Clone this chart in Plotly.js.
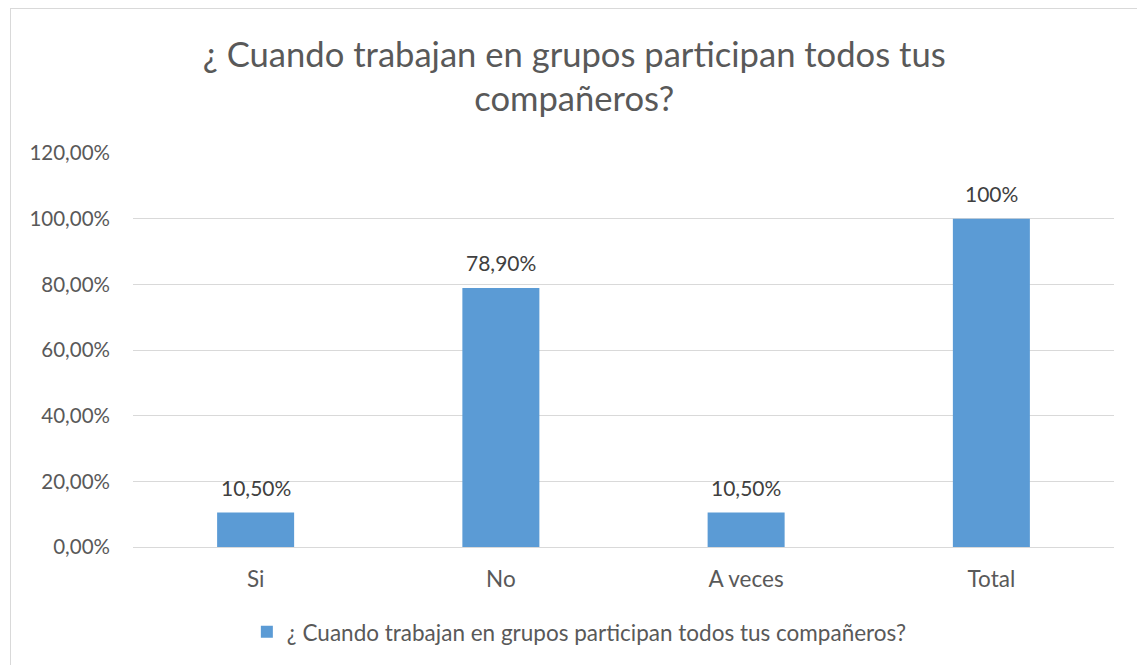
<!DOCTYPE html>
<html>
<head>
<meta charset="utf-8">
<script src="https://cdn.plot.ly/plotly-3.0.1.min.js"></script>
<style>
html,body{margin:0;padding:0;background:#fff;}
#chart{position:absolute;left:0;top:0;width:1137px;height:665px;}
#frame{position:absolute;left:10px;top:8px;width:1140px;height:670px;border:1px solid #d9d9d9;pointer-events:none;}
</style>
</head>
<body>
<div id="chart"></div>
<div id="frame"></div>
<script>
const titleText = "¿ Cuando trabajan en grupos participan todos tus<br>compañeros?";
const seriesName = "¿ Cuando trabajan en grupos participan todos tus compañeros?";
const categories = ["Si", "No", "A veces", "Total"];
const values = [0.105, 0.789, 0.105, 1.0];
const labels = ["10,50%", "78,90%", "10,50%", "100%"];
const yTicks = [0, 0.2, 0.4, 0.6, 0.8, 1.0, 1.2];

const FONT = "Lato, 'Open Sans', sans-serif";
const TXT = "#595959";

const trace = {
  type: "bar",
  x: categories,
  y: values,
  name: seriesName,
  marker: {color: "#5B9BD5"},
  showlegend: true,
  hoverinfo: "none"
};

const annotations = categories.map((c, i) => ({
  x: c, y: values[i], xref: "x", yref: "y",
  text: labels[i], showarrow: false,
  yanchor: "bottom", yshift: 11,
  font: {family: FONT, size: 21, color: "#404040"}
}));

const layout = {
  width: 1137, height: 665,
  margin: {l: 133, r: 23, t: 153, b: 118, pad: 0},
  paper_bgcolor: "#fff", plot_bgcolor: "#fff",
  separators: ",.",
  font: {family: FONT, color: TXT},
  title: {
    text: titleText,
    font: {family: FONT, size: 34.6, color: TXT},
    x: 0.505, xanchor: "center", y: 0.9, yanchor: "middle"
  },
  bargap: 0.686,
  xaxis: {
    type: "category",
    showgrid: false, zeroline: false, showline: false,
    ticks: "outside", ticklen: 0, tickcolor: "rgba(0,0,0,0)",
    ticklabelstandoff: 12,
    tickfont: {family: FONT, size: 22.5, color: TXT}
  },
  yaxis: {
    range: [0, 1.2],
    tickvals: yTicks,
    tickformat: ".2%",
    showgrid: true, gridcolor: "#d9d9d9", gridwidth: 1,
    zeroline: true, zerolinecolor: "#d9d9d9", zerolinewidth: 1,
    showline: false,
    ticklabelstandoff: 22,
    tickfont: {family: FONT, size: 20.5, color: TXT}
  },
  legend: {
    orientation: "h", x: 0.455, xanchor: "center", y: -0.216, yanchor: "middle",
    font: {family: FONT, size: 22.5, color: TXT},
    itemwidth: 30
  },
  annotations: annotations,
  showlegend: true
};

Plotly.newPlot("chart", [trace], layout, {displayModeBar: false, staticPlot: true});
</script>
</body>
</html>
